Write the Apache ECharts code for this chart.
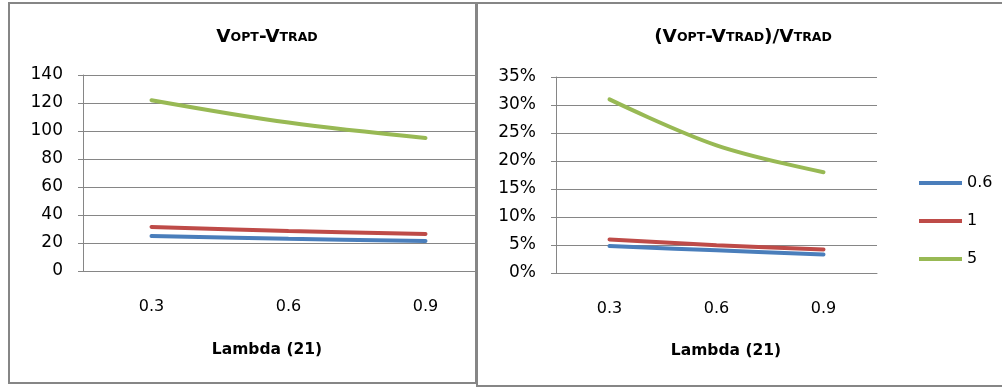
<!DOCTYPE html>
<html>
<head>
<meta charset="utf-8">
<script src="https://cdn.jsdelivr.net/npm/echarts@6/dist/echarts.min.js"></script>
<style>
html,body{margin:0;padding:0;background:#fff;}
#chart{width:1002px;height:389px;}
</style>
</head>
<body>
<div id="chart"></div>
<script>
// ---- data ----
var categories = ['0.3', '0.6', '0.9'];
var seriesNames = ['0.6', '1', '5'];
var diff06 = [25, 23, 21.5];
var diff1 = [31.5, 28.5, 26.5];
var diff5 = [122, 106, 95];
var rel06 = [0.048, 0.0405, 0.033];
var rel1 = [0.06, 0.0495, 0.042];
var rel5 = [0.31, 0.228, 0.18];
var leftTicks = [0, 20, 40, 60, 80, 100, 120, 140];
var rightTicks = [0, 0.05, 0.10, 0.15, 0.20, 0.25, 0.30, 0.35];

var colors = ['#4A7EBB', '#BE4B48', '#98B954'];
var FONT = 'DejaVu Sans';
var GRID = '#868686';

var chart = echarts.init(document.getElementById('chart'), null, {renderer: 'canvas'});

function mkSeries(name, data, idx, color, z) {
  return {
    name: name, type: 'line', data: data,
    xAxisIndex: idx, yAxisIndex: idx,
    symbol: 'none', showSymbol: false, smooth: 0.35, z: z,
    lineStyle: {color: color, width: 4, cap: 'round'},
    itemStyle: {color: color},
    emphasis: {disabled: true}
  };
}

var titleRich = {
  b: {fontFamily: FONT, fontWeight: 'bold', fontSize: 18.5, color: '#000'},
  s: {fontFamily: FONT, fontWeight: 'bold', fontSize: 12.5, color: '#000'}
};

var LEG_ICON = 'path://M0,0 L0.01,0 L0.01,0.01 Z M0,5 L43,5 L43,9 L0,9 Z M43,14 L42.99,14 L42.99,13.99 Z';

var option = {
  animation: false,
  backgroundColor: '#fff',
  color: colors,
  title: [
    {text: '{b|V}{s|OPT}{b|-V}{s|TRAD}', left: 262, top: 23, textAlign: 'center',
     textStyle: {rich: titleRich}},
    {text: '{b|(V}{s|OPT}{b|-V}{s|TRAD}{b|)/V}{s|TRAD}', left: 738, top: 23, textAlign: 'center',
     textStyle: {rich: titleRich}, z: 8},
    {text: 'Lambda (21)', left: 262, top: 337, textAlign: 'center',
     textStyle: {fontFamily: FONT, fontWeight: 'bold', fontSize: 15.5, color: '#000'}},
    {text: 'Lambda (21)', left: 721, top: 338, textAlign: 'center',
     textStyle: {fontFamily: FONT, fontWeight: 'bold', fontSize: 15.5, color: '#000'}, z: 8}
  ],
  legend: {
    orient: 'vertical', left: 914, top: 170, z: 8,
    itemWidth: 43, itemHeight: 14, itemGap: 22,
    data: seriesNames.map(function (n, i) { return {name: n, icon: LEG_ICON, itemStyle: {color: colors[i]}}; }),
    textStyle: {fontFamily: FONT, fontSize: 16, color: '#000'},
    selectedMode: false
  },
  grid: [
    {left: 83, top: 75, width: 411, height: 196},
    {left: 556, top: 77, width: 321, height: 196}
  ],
  xAxis: [
    {type: 'category', gridIndex: 0, data: categories, boundaryGap: true,
     axisLine: {lineStyle: {color: GRID, width: 1}}, axisTick: {show: false},
     axisLabel: {fontFamily: FONT, fontSize: 16, color: '#000', margin: 28}},
    {type: 'category', gridIndex: 1, data: categories, boundaryGap: true, z: 6,
     axisLine: {lineStyle: {color: GRID, width: 1}}, axisTick: {show: false},
     axisLabel: {fontFamily: FONT, fontSize: 16, color: '#000', margin: 28}}
  ],
  yAxis: [
    {type: 'value', gridIndex: 0, min: leftTicks[0], max: leftTicks[leftTicks.length - 1], interval: 20,
     axisLine: {show: true, lineStyle: {color: GRID, width: 1}},
     axisTick: {show: true, inside: false, length: 5, lineStyle: {color: GRID}},
     splitLine: {show: true, lineStyle: {color: GRID, width: 1}},
     axisLabel: {fontFamily: FONT, fontSize: 17, color: '#000', margin: 20}},
    {type: 'value', gridIndex: 1, min: rightTicks[0], max: rightTicks[rightTicks.length - 1], interval: 0.05, z: 6,
     axisLine: {show: true, lineStyle: {color: GRID, width: 1}},
     axisTick: {show: true, inside: false, length: 5, lineStyle: {color: GRID}},
     splitLine: {show: true, lineStyle: {color: GRID, width: 1}},
     axisLabel: {fontFamily: FONT, fontSize: 17, color: '#000', margin: 20,
       formatter: function (v) { return Math.round(v * 100) + '%'; }}}
  ],
  graphic: [
    {type: 'rect', z: 1, shape: {x: 9, y: 3, width: 467, height: 380},
     style: {fill: null, stroke: GRID, lineWidth: 2}},
    {type: 'rect', z: 5, shape: {x: 477, y: 3, width: 540, height: 383},
     style: {fill: '#fff', stroke: GRID, lineWidth: 2}}
  ],
  series: [
    mkSeries(seriesNames[0], diff06, 0, colors[0], 2),
    mkSeries(seriesNames[1], diff1, 0, colors[1], 2),
    mkSeries(seriesNames[2], diff5, 0, colors[2], 2),
    mkSeries(seriesNames[0], rel06, 1, colors[0], 7),
    mkSeries(seriesNames[1], rel1, 1, colors[1], 7),
    mkSeries(seriesNames[2], rel5, 1, colors[2], 7)
  ]
};
chart.setOption(option);
</script>
</body>
</html>
